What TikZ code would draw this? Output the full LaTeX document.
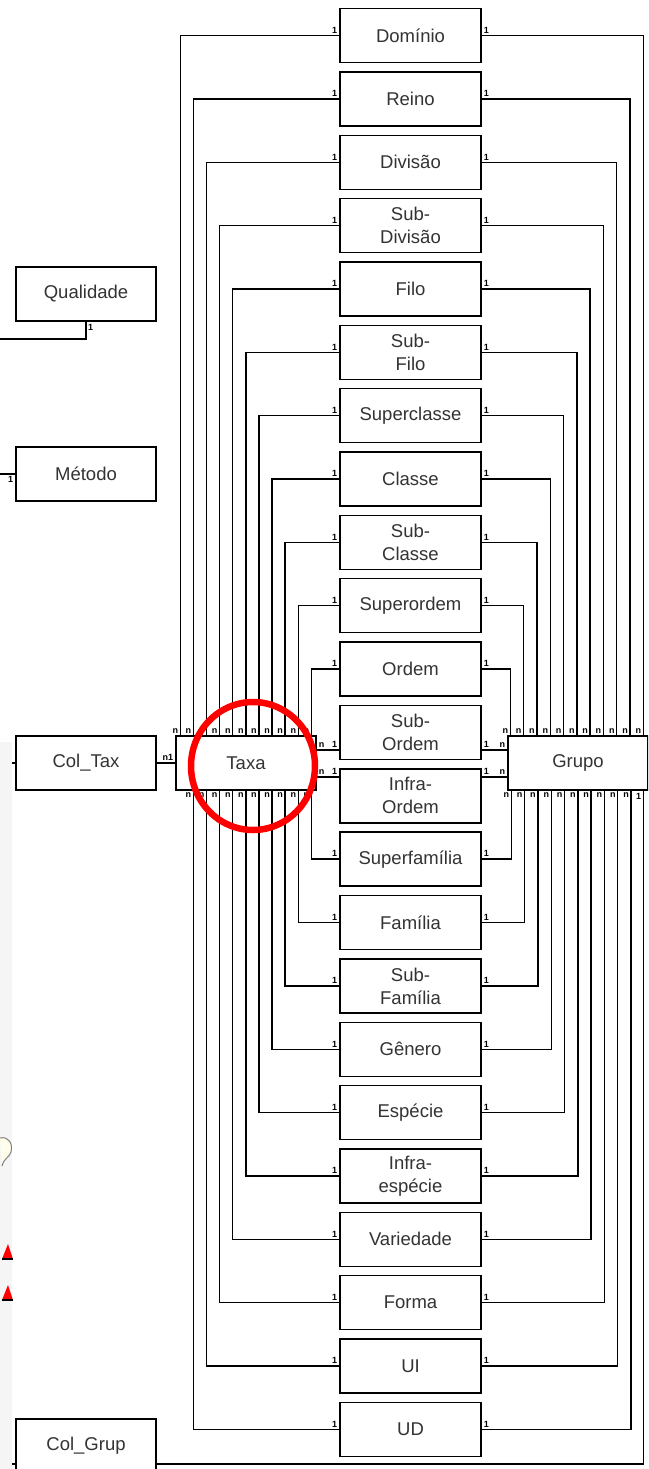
\documentclass[tikz,border=0pt]{standalone}
\usepackage{fontspec}
\setmainfont{Liberation Sans}
\usetikzlibrary{positioning}

\begin{document}
\begin{tikzpicture}[
    x=1pt,y=-1pt,
    line width=1.4pt,
    ent/.style={draw,fill=white,minimum width=141,minimum height=54,
      align=center,inner sep=0pt,text=black!80,
      font=\fontsize{18.5}{23}\selectfont},
    lab/.style={inner sep=1.5pt,font=\bfseries\fontsize{9}{9}\selectfont}]
  \clip (0,0) rectangle (648,1469);
  \fill[white] (0,0) rectangle (648,1469);
  \fill[gray!8] (0,742) rectangle (12,1469);
  % side tables
  \node[ent,minimum width=140] (qua) at (86,294) {Qualidade};
  \node[ent,minimum width=140] (met) at (86,474) {Método};
  \node[ent,minimum width=140] (ctx) at (86,763) {Col\_Tax};
  \node[ent,minimum width=140] (cgr) at (86,1446) {Col\_Grup};
  \node[ent,minimum width=140] (tax) at (246,763) {Taxa};
  \node[ent,minimum width=140] (grp) at (578,763) {Grupo};
  % rank tables
  \foreach \nm/\txt [count=\i from 0] in {dom/Domínio,rei/Reino,div/Divisão,
      sdv/{Sub-\\Divisão},fil/Filo,sfl/{Sub-\\Filo},spc/Superclasse,cla/Classe,
      scl/{Sub-\\Classe},spo/Superordem,ord/Ordem,sor/{Sub-\\Ordem},
      ior/{Infra-\\Ordem},spf/Superfamília,fam/Família,sfm/{Sub-\\Família},
      gen/Gênero,esp/Espécie,ies/{Infra-\\espécie},var/Variedade,frm/Forma,
      ui/UI,ud/UD}
    \node[ent] (\nm) at (410.5,{35.5+63.36*\i}) {\txt};
  % upper ranks
  \foreach \nm [count=\i from 0] in {dom,rei,div,sdv,fil,sfl,spc,cla,scl,spo,ord} {
    \draw (\nm.west) node[lab,anchor=south east]{1}
      -| ([xshift={5+13.1*\i}]tax.north west) node[lab,anchor=south east]{n};
    \draw (\nm.east) node[lab,anchor=south west]{1}
      -| ([xshift={136-13.3*\i}]grp.north west) node[lab,anchor=south east]{n};
  }
  % lower ranks
  \foreach \nm [count=\k from 0] in {spf,fam,sfm,gen,esp,ies,var,frm,ui,ud} {
    \draw (\nm.west) node[lab,anchor=south east]{1}
      -| ([xshift={136-13.1*\k}]tax.south west) node[lab,anchor=north east]{n};
    \draw (\nm.east) node[lab,anchor=south west]{1}
      -| ([xshift={4+13.3*\k}]grp.south west) node[lab,anchor=north east]{n};
  }
  % direct links
  \coordinate (t1) at ([yshift=13pt]tax.east);
  \coordinate (t2) at ([yshift=-14pt]tax.east);
  \coordinate (g1) at ([yshift=13pt]grp.west);
  \coordinate (g2) at ([yshift=-14pt]grp.west);
  \draw (t1) node[lab,anchor=south west]{n} -- (t1 -| sor.west) node[lab,anchor=south east]{1};
  \draw (g1 -| sor.east) node[lab,anchor=south west]{1} -- (g1) node[lab,anchor=south east]{n};
  \draw (t2) node[lab,anchor=south west]{n} -- (t2 -| ior.west) node[lab,anchor=south east]{1};
  \draw (g2 -| ior.east) node[lab,anchor=south west]{1} -- (g2) node[lab,anchor=south east]{n};
  \draw (ctx.east) -- (tax.west) node[lab,anchor=south east]{n1};
  \coordinate (cgr1) at ([yshift=-18pt]cgr.east);
  \draw (cgr1) -| ([xshift=136pt]grp.south west) node[lab,anchor=north east]{1};
  % loose ends
  \coordinate (qfree) at (0,339);
  \coordinate (mfree) at (0,474);
  \coordinate (cfree) at (12,763);
  \coordinate (gfree) at (12,1464);
  \draw (qua.south) node[lab,anchor=north west]{1} |- (qfree);
  \draw (met.west) node[lab,anchor=north east]{1} -- (mfree);
  \draw (ctx.west) -- (cfree);
  \draw ([yshift=-18pt]cgr.west) -- (gfree);
  % markers at the left edge
  \draw[gray,fill=yellow!8,line width=1pt] (0,1138) .. controls (9,1136) and (13,1144) .. (11,1152)
    .. controls (9,1158) and (4,1158) .. (2,1166);
  \fill[red] (2,1259) -- (8,1244) -- (13,1259) -- cycle;
  \fill[red] (2,1300) -- (8,1285) -- (13,1300) -- cycle;
  \draw[black,line width=1.5pt] (2,1259) -- (13,1259) (2,1300) -- (13,1300);
  % highlight
  \draw[red,line width=6.5pt] (253,766) ellipse [x radius=62,y radius=64];
\end{tikzpicture}
\end{document}
